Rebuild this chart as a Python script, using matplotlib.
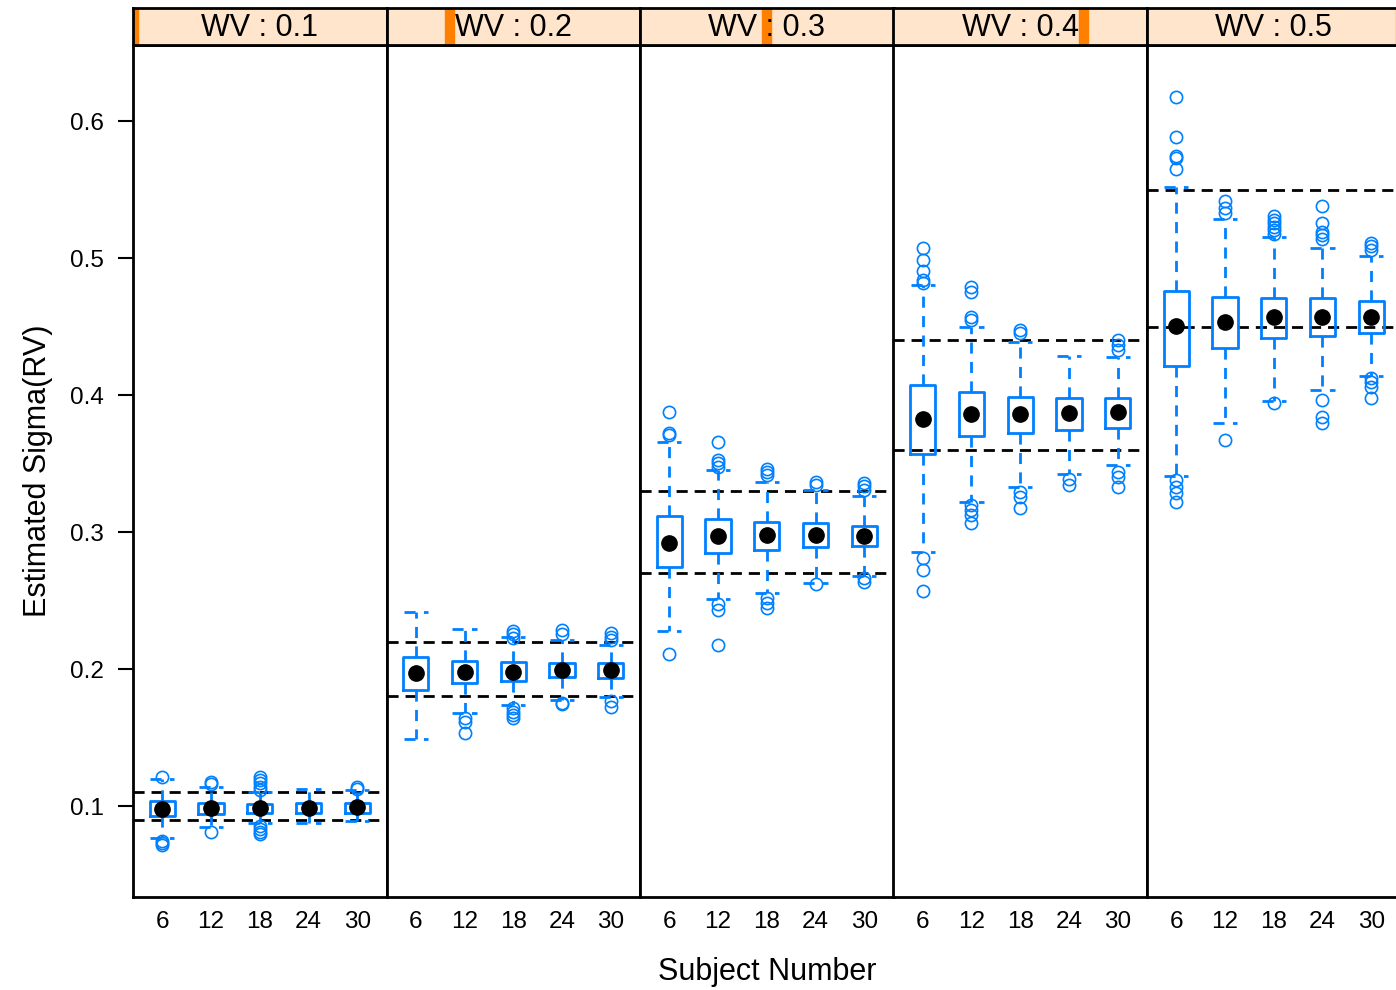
import matplotlib
matplotlib.use("Agg")
import matplotlib.pyplot as plt
from matplotlib.patches import Rectangle

plt.rcParams['font.family'] = ['Liberation Sans', 'DejaVu Sans']

# WV levels (panels) and subject numbers (x categories)
wv_levels = [0.1, 0.2, 0.3, 0.4, 0.5]
subjects = ['6', '12', '18', '24', '30']

# box statistics per panel, one value per subject number
medians = [
    [0.0978, 0.0985, 0.0985, 0.0988, 0.0990],
    [0.1968, 0.1978, 0.1980, 0.1993, 0.1993],
    [0.2922, 0.2971, 0.2978, 0.2978, 0.2973],
    [0.3823, 0.3861, 0.3859, 0.3872, 0.3876],
    [0.4506, 0.4530, 0.4567, 0.4572, 0.4572],
]
q1s = [
    [0.0927, 0.0942, 0.0951, 0.0947, 0.0951],
    [0.1847, 0.1900, 0.1915, 0.1939, 0.1934],
    [0.2747, 0.2845, 0.2869, 0.2889, 0.2900],
    [0.3569, 0.3701, 0.3720, 0.3745, 0.3762],
    [0.4212, 0.4341, 0.4414, 0.4431, 0.4450],
]
q3s = [
    [0.1039, 0.1025, 0.1015, 0.1025, 0.1025],
    [0.2085, 0.2060, 0.2053, 0.2041, 0.2041],
    [0.3119, 0.3093, 0.3075, 0.3068, 0.3046],
    [0.4073, 0.4020, 0.3988, 0.3980, 0.3980],
    [0.4761, 0.4718, 0.4710, 0.4710, 0.4686],
]
whis_lo = [
    [0.0769, 0.0845, 0.0878, 0.0874, 0.0893],
    [0.1491, 0.1677, 0.1740, 0.1774, 0.1798],
    [0.2280, 0.2509, 0.2557, 0.2626, 0.2679],
    [0.2854, 0.3221, 0.3326, 0.3421, 0.3489],
    [0.3409, 0.3793, 0.3959, 0.4037, 0.4139],
]
whis_hi = [
    [0.1195, 0.1141, 0.1100, 0.1122, 0.1117],
    [0.2418, 0.2290, 0.2237, 0.2212, 0.2175],
    [0.3659, 0.3453, 0.3367, 0.3307, 0.3263],
    [0.4801, 0.4499, 0.4385, 0.4287, 0.4280],
    [0.5516, 0.5282, 0.5156, 0.5071, 0.5015],
]
outliers = [
    [[0.1212, 0.0745, 0.0728, 0.0712],
     [0.1178, 0.1160, 0.0813],
     [0.1214, 0.1190, 0.1166, 0.1142, 0.1117, 0.0857, 0.0835, 0.0812, 0.0795],
     [],
     [0.1136, 0.1125]],
    [[],
     [0.1640, 0.1616, 0.1536],
     [0.2277, 0.2253, 0.2229, 0.1713, 0.1689, 0.1664, 0.1640],
     [0.2285, 0.2255, 0.1755, 0.1745],
     [0.2261, 0.2236, 0.2212, 0.1769, 0.1725]],
    [[0.3878, 0.3725, 0.3708, 0.2107],
     [0.3659, 0.3526, 0.3501, 0.3472, 0.2474, 0.2431, 0.2175],
     [0.3462, 0.3438, 0.3413, 0.2515, 0.2479, 0.2448],
     [0.3367, 0.3343, 0.2621],
     [0.3357, 0.3333, 0.3309, 0.2662, 0.2638]],
    [[0.5071, 0.4985, 0.4907, 0.4839, 0.4820, 0.2808, 0.2723, 0.2571],
     [0.4792, 0.4755, 0.4572, 0.4548, 0.3197, 0.3160, 0.3124, 0.3063],
     [0.4474, 0.4450, 0.3294, 0.3257, 0.3173],
     [0.3385, 0.3343],
     [0.4401, 0.4364, 0.4328, 0.3440, 0.3404, 0.3331]],
    [[0.6173, 0.5886, 0.5745, 0.5730, 0.5647, 0.3380, 0.3331, 0.3282, 0.3221],
     [0.5416, 0.5367, 0.5331, 0.3672],
     [0.5307, 0.5277, 0.5253, 0.5228, 0.5204, 0.5175, 0.3945],
     [0.5382, 0.5253, 0.5192, 0.5168, 0.5136, 0.3964, 0.3842, 0.3798],
     [0.5110, 0.5085, 0.5056, 0.4122, 0.4098, 0.4061, 0.3976]],
]

blue = '#0080ff'
W, H = 1396, 990
fig = plt.figure(figsize=(W / 100, H / 100), dpi=100)

left0 = 133 / W
pw = 253.5 / W
bottom = 1 - 897 / H
ph = (897 - 45) / H
sh = 37 / H
pos = [1, 2, 3, 4, 5]

for i, wv in enumerate(wv_levels):
    ax = fig.add_axes([left0 + i * pw, bottom, pw, ph])
    stats = []
    for j in range(len(subjects)):
        stats.append(dict(med=medians[i][j], q1=q1s[i][j], q3=q3s[i][j],
                          whislo=whis_lo[i][j], whishi=whis_hi[i][j],
                          fliers=outliers[i][j]))
    ax.bxp(stats, positions=pos, widths=0.52, capwidths=0.5, showfliers=True,
           boxprops=dict(color=blue, lw=2),
           whiskerprops=dict(color=blue, lw=2, ls=(0, (4, 3))),
           capprops=dict(color=blue, lw=2, ls=(0, (4, 3))),
           medianprops=dict(visible=False),
           flierprops=dict(marker='o', ms=8.8, mfc='none', mec=blue, mew=1.2))
    ax.plot(pos, medians[i], 'o', color='black', ms=11, zorder=5)
    # reference lines at +-10% of the true value
    ax.axhline(wv * 1.1, color='black', lw=2, ls=(0, (4, 2.5)), zorder=1)
    ax.axhline(wv * 0.9, color='black', lw=2, ls=(0, (4, 2.5)), zorder=1)

    ax.set_xlim(0.4, 5.6)
    ax.set_ylim(0.0336, 0.6555)
    ax.set_xticks(pos)
    ax.set_xticklabels(subjects)
    ax.tick_params(axis='x', length=0, pad=10, labelsize=17.5)
    if i == 0:
        ax.set_yticks([0.1, 0.2, 0.3, 0.4, 0.5, 0.6])
        ax.tick_params(axis='y', direction='out', length=11, width=1.5,
                       pad=10, labelsize=17.5)
        ax.set_ylabel('Estimated Sigma(RV)', fontsize=22, labelpad=12)
    else:
        ax.set_yticks([])
    for s in ax.spines.values():
        s.set_linewidth(2)

    # strip on top
    sax = fig.add_axes([left0 + i * pw, bottom + ph, pw, sh])
    sax.set_xlim(0, 1)
    sax.set_ylim(0, 1)
    sax.set_facecolor('#ffe5cc')
    c = i / (len(wv_levels) - 1)
    sax.add_patch(Rectangle((c - 0.018, 0), 0.036, 1, color='#ff7f00'))
    sax.text(0.5, 0.45, 'WV : %s' % wv, ha='center', va='center', fontsize=22)
    sax.set_xticks([])
    sax.set_yticks([])
    for s in sax.spines.values():
        s.set_linewidth(2)

fig.text((133 + 2.5 * 253.5) / W, 1 - 972 / H, 'Subject Number',
         ha='center', va='center', fontsize=22)

fig.savefig('out.png', dpi=100)
